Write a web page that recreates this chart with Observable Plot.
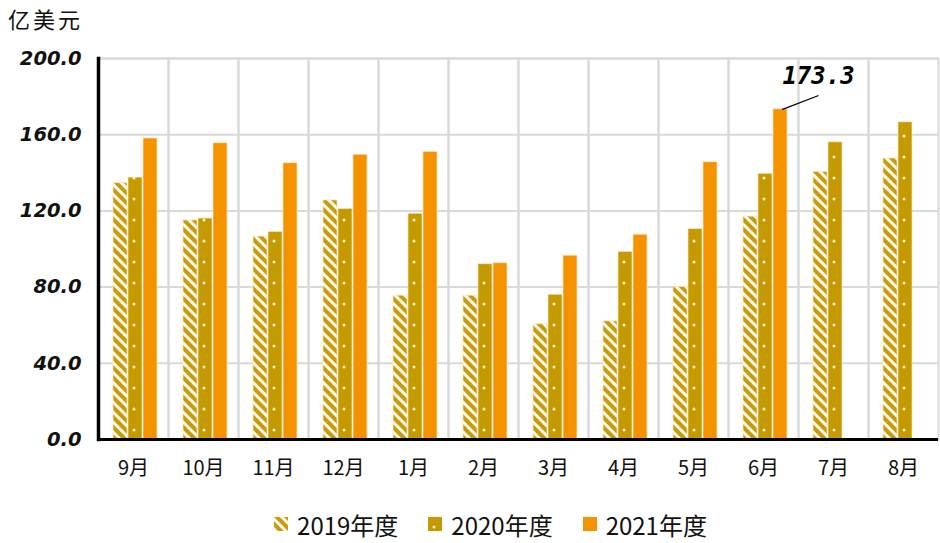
<!DOCTYPE html>
<html><head><meta charset="utf-8">
<script src="https://cdn.jsdelivr.net/npm/d3@7"></script>
<script src="https://cdn.jsdelivr.net/npm/@observablehq/plot@0.6"></script>
<style>
body{margin:0;background:#fff;}
#wrap{position:relative;width:940px;height:543px;background:#fff;overflow:hidden;}
#unit{position:absolute;left:8px;top:4px;font:22px "Noto Sans CJK SC";letter-spacing:3px;color:#111;line-height:28px;}
#legend{position:absolute;left:0;top:505px;width:940px;height:38px;display:flex;align-items:center;justify-content:center;font:24px "Noto Sans CJK SC";color:#111;box-sizing:border-box;padding-left:41px;}
.item{display:flex;align-items:center;margin:0 15px;}
.item svg{margin-right:9px;}
</style></head><body>
<svg width="0" height="0" style="position:absolute">
<defs>
<pattern id="p2019" patternUnits="userSpaceOnUse" width="7" height="7" patternTransform="rotate(-45)">
<rect width="7" height="7" fill="#fffaf0"/>
<rect width="4" height="7" fill="#C99A0A"/>
</pattern>
<pattern id="p2020" patternUnits="userSpaceOnUse" width="16" height="21">
<rect width="16" height="21" fill="#C59A00"/>
<circle cx="6" cy="10" r="1.5" fill="#fbf0d2"/>
</pattern>
</defs></svg>
<div id="wrap">
<div id="chart"></div>
<div id="unit">亿美元</div>
<div id="legend"></div>
</div>
<script>
const months = ["9月","10月","11月","12月","1月","2月","3月","4月","5月","6月","7月","8月"];
const series = ["2019年度","2020年度","2021年度"];
const v2019 = [134.5,115,106.5,125.5,75.5,75.5,60.5,62,80,117,140.5,147.5];
const v2020 = [137.5,116,109,121,118.5,92,76,98.5,110.5,139.5,156,166.5];
const v2021 = [158,155.5,145,149.5,151,92.5,96.5,107.5,145.5,173.3,null,null];
const yTicks = [0,40,80,120,160,200];
const annotated = [{month:"6月", series:"2021年度", value:173.3}];
const fills = ["url(#p2019)","url(#p2020)","#F59200"];

const rows = [];
[v2019, v2020, v2021].forEach((vals, si) => {
  vals.forEach((v, mi) => { if (v != null) rows.push({month: months[mi], series: series[si], value: v}); });
});

const leader = {draw(context, l) { context.moveTo(0, 0); context.lineTo(0, -l); }};

const chart = Plot.plot({
  width: 940, height: 505,
  marginTop: 58, marginBottom: 66, marginLeft: 98, marginRight: 2,
  style: {fontFamily: '"Noto Sans CJK SC", sans-serif', fontSize: "20px", color: "#111", background: "white", overflow: "visible"},
  fx: {domain: months, padding: 0},
  x: {domain: series, paddingInner: 0.1, paddingOuter: 0.8, align: 0.55, axis: null},
  y: {domain: [0, 200]},
  color: {domain: series, range: fills},
  marks: [
    Plot.frame({stroke: "#d9d9d9", strokeWidth: 2}),
    Plot.gridY(yTicks, {stroke: "#d9d9d9", strokeOpacity: 1, strokeWidth: 2}),
    Plot.barY(rows, {fx: "month", x: "series", y: "value", fill: "series", stroke: "#fbe7bd", strokeWidth: 0.7}),
    Plot.ruleY([0], {stroke: "#000", strokeWidth: 3}),
    Plot.frame({anchor: "left", facetAnchor: "left", stroke: "#000", strokeWidth: 3.5}),
    Plot.vector(annotated, {fx: "month", x: "series", y: "value", anchor: "start", length: 38, rotate: 69, dx: 2, shape: leader, stroke: "#000", strokeWidth: 1.3}),
    Plot.text(annotated, {fx: "month", x: "series", y: "value", text: d => d.value.toFixed(1), dx: 38, dy: -33,
      fontFamily: "DejaVu Sans Mono", fontWeight: "bold", fontStyle: "italic", fontSize: 24, fill: "#000"}),
    Plot.axisY(yTicks, {tickSize: 0, tickPadding: 17, tickFormat: d => d.toFixed(1), label: null,
      fontFamily: "DejaVu Sans", fontWeight: "bold", fontStyle: "italic", fontSize: 19.5}),
    Plot.axisFx({anchor: "bottom", tickSize: 0, tickPadding: 21, label: null, fontSize: 20})
  ]
});
document.getElementById("chart").appendChild(chart);

const legend = d3.select("#legend");
series.forEach((s, i) => {
  const item = legend.append("div").attr("class", "item");
  const sw = item.append("svg").attr("width", 14).attr("height", 14);
  sw.append("rect").attr("width", 14).attr("height", 14).attr("fill", fills[i]);
  item.append("span").text(s);
});
</script>
</body></html>
